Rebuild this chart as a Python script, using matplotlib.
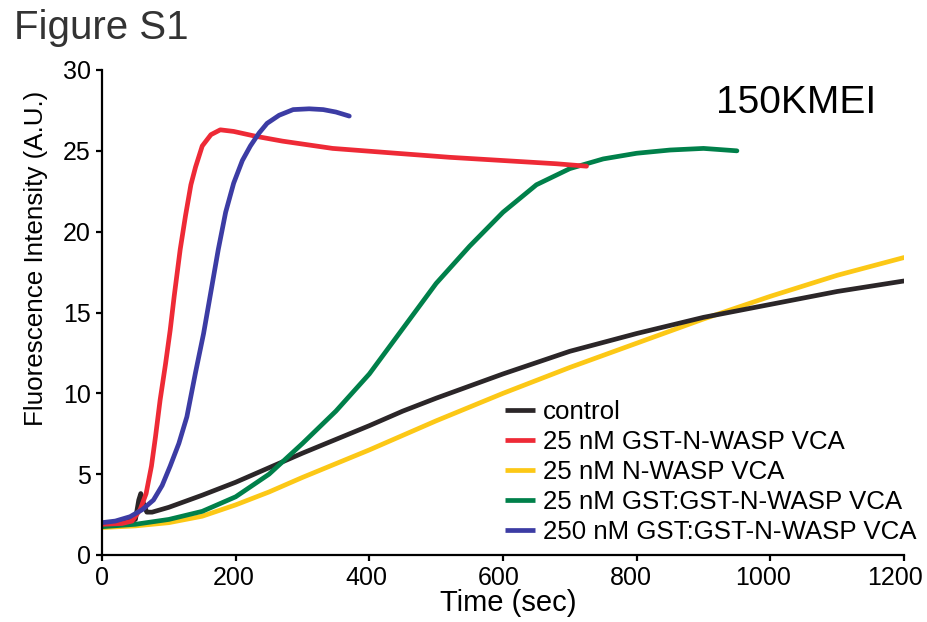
import matplotlib
matplotlib.use("Agg")
import matplotlib.pyplot as plt
import matplotlib.transforms as mtransforms

plt.rcParams['font.family'] = ['Liberation Sans', 'DejaVu Sans']

# data (time in sec, fluorescence in A.U.)
control_t = [0, 30, 50, 55, 58, 62, 67, 75, 100, 150, 200, 250, 300, 400, 450, 500,
             600, 700, 800, 900, 1000, 1100, 1200]
control_y = [1.95, 2.0, 2.2, 3.4, 3.8, 3.2, 2.65, 2.65, 2.95, 3.7, 4.5, 5.4, 6.3, 8.0,
             8.9, 9.7, 11.2, 12.6, 13.7, 14.7, 15.5, 16.3, 16.95]

red_t = [0, 30, 45, 57, 66, 74, 80, 87, 95, 102, 108, 117, 125, 133, 140, 150, 163,
         177, 197, 230, 270, 345, 440, 520, 600, 680, 725]
red_y = [1.9, 1.95, 2.1, 2.8, 3.8, 5.5, 7.3, 9.6, 11.8, 13.9, 16.0, 18.9, 21.0, 22.9,
         24.0, 25.3, 26.0, 26.3, 26.2, 25.9, 25.6, 25.15, 24.85, 24.6, 24.4, 24.2, 24.05]

yellow_t = [0, 50, 100, 150, 200, 250, 300, 400, 500, 600, 700, 800, 900, 1000, 1100, 1200]
yellow_y = [1.7, 1.8, 2.0, 2.4, 3.1, 3.9, 4.8, 6.5, 8.3, 10.0, 11.6, 13.1, 14.6, 16.0,
            17.3, 18.4]

green_t = [0, 50, 100, 150, 200, 250, 300, 350, 400, 450, 500, 550, 600, 650, 700, 750,
           800, 850, 900, 950]
green_y = [1.75, 1.9, 2.2, 2.7, 3.6, 5.0, 6.9, 8.9, 11.2, 14.0, 16.8, 19.1, 21.2, 22.9,
           23.9, 24.5, 24.85, 25.05, 25.15, 25.0]

blue_t = [0, 20, 42, 60, 77, 90, 102, 115, 127, 140, 152, 163, 174, 185, 197, 210, 222,
          235, 247, 265, 286, 310, 331, 350, 370]
blue_y = [2.0, 2.1, 2.37, 2.8, 3.4, 4.3, 5.5, 6.9, 8.55, 11.3, 13.7, 16.3, 18.9, 21.2,
          23.0, 24.4, 25.3, 26.1, 26.7, 27.2, 27.55, 27.6, 27.55, 27.4, 27.15]

labels = ['control', '25 nM GST-N-WASP VCA', '25 nM N-WASP VCA',
          '25 nM GST:GST-N-WASP VCA', '250 nM GST:GST-N-WASP VCA']
colors = ['#2b2628', '#ee2a36', '#fcc816', '#00804a', '#3c3ca4']
xticks = [0, 200, 400, 600, 800, 1000, 1200]
yticks = [0, 5, 10, 15, 20, 25, 30]

fig = plt.figure(figsize=(9.27, 6.22), dpi=100)
ax = fig.add_axes([102 / 927, 1 - 555 / 622, (904 - 102) / 927, (555 - 70) / 622])

series = [(control_t, control_y), (red_t, red_y), (yellow_t, yellow_y),
          (green_t, green_y), (blue_t, blue_y)]
# draw order: yellow, control, green, red, blue
for i in [2, 0, 3, 1, 4]:
    t, y = series[i]
    ax.plot(t, y, color=colors[i], lw=3.4, solid_capstyle='round', label=labels[i])

ax.set_xlim(0, 1200)
ax.set_ylim(0, 30)
ax.set_xticks(xticks)
ax.set_yticks(yticks)
for s in ['top', 'right']:
    ax.spines[s].set_visible(False)
for s in ['left', 'bottom']:
    ax.spines[s].set_linewidth(1.6)
ax.tick_params(direction='out', length=4, width=1.6)
ax.tick_params(axis='x', labelsize=18, pad=4)
ax.tick_params(axis='y', labelsize=18, pad=4)

# x tick labels sit a little left of their ticks in the original
for v, lab in zip(xticks, ax.get_xticklabels()):
    off = mtransforms.ScaledTranslation(-v / 1200 * 9 / 100, 0, fig.dpi_scale_trans)
    lab.set_transform(lab.get_transform() + off)

ax.set_xlabel('Time (sec)', fontsize=21)
ax.xaxis.set_label_coords((508 - 102) / 802, -(611 - 555) / 485)
ax.xaxis.label.set_va('baseline')
ax.set_ylabel('Fluorescence Intensity (A.U.)', fontsize=18.7)
ax.yaxis.set_label_coords((48 - 102) / 802, (555 - 258) / 485)

handles, labs = ax.get_legend_handles_labels()
order = [labs.index(l) for l in labels]
leg = ax.legend([handles[k] for k in order], [labs[k] for k in order],
                loc='upper left', bbox_to_anchor=(505 / 927, 1 - 400 / 622),
                bbox_transform=fig.transFigure, frameon=False, fontsize=18.6,
                handlelength=1.15, handletextpad=0.32, labelspacing=0.23,
                borderpad=0, borderaxespad=0)
for h in leg.get_lines():
    h.set_linewidth(3.4)
    h.set_solid_capstyle('butt')

fig.text(14 / 927, 1 - 39 / 622, 'Figure S1', fontsize=29, color='#333333', va='baseline')
fig.text(716 / 927, 1 - 113 / 622, '150KMEI', fontsize=28, va='baseline')

fig.savefig('out.png', dpi=100)
